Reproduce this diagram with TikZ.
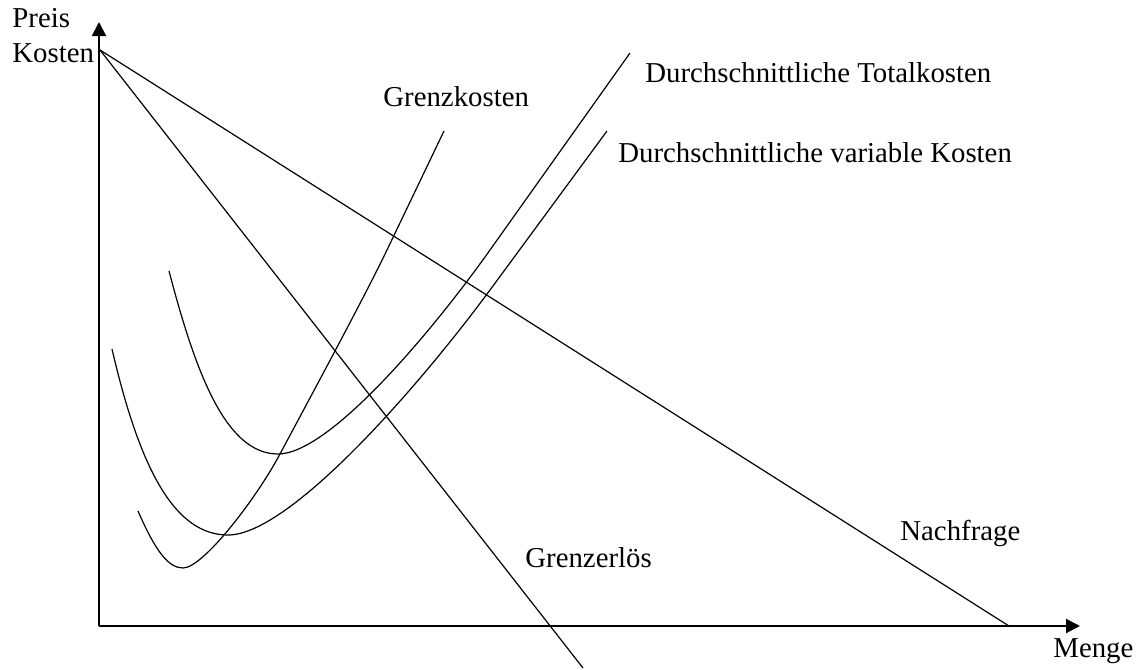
\documentclass[tikz,border=0pt]{standalone}
\usepackage{fontspec}
\setmainfont{Liberation Serif}
\usepackage{tikz}
\usetikzlibrary{positioning}
\usetikzlibrary{arrows.meta}

\begin{document}
\begin{tikzpicture}[x=0.5pt, y=-0.5pt]
	\tikzset{
		axis/.style={line width=1pt, -{Triangle[length=7pt, width=7pt]}},
		curve/.style={line width=0.6pt},
		lbl/.style={anchor=base west, inner sep=0pt, font=\fontsize{14.4}{17}\selectfont}
	}
	\useasboundingbox (0,0) rectangle (1137,670);

	% Axes
	\coordinate (origin) at (99,626);
	\coordinate (ytop) at (99,22);
	\coordinate (xend) at (1080,626);
	\draw[axis] (origin) -- (ytop);
	\draw[axis] (origin) -- (xend);
	\node[lbl] (preis) at (12,27) {Preis};
	\node[lbl] (kosten) at (12,62) {Kosten};
	\node[lbl] (menge) at (1053,657) {Menge};

	% Demand and marginal revenue
	\coordinate (apex) at (100,50);
	\coordinate (demandend) at (1009,626);
	\coordinate (revend) at (583,668);
	\draw[curve] (apex) -- (demandend);
	\draw[curve] (apex) -- (revend);
	\node[lbl] (nachfrage) at (900,540) {Nachfrage};
	\node[lbl] (grenzerloes) at (525,567) {Grenzerlös};

	% Marginal cost
	\draw[curve] (138,511) .. controls (155,550) and (168,568) .. (183,568)
		.. controls (203,568) and (256,499) .. (280,454)
		.. controls (304,409) and (364,298) .. (387,250) -- (444,131);
	\node[lbl] (grenzkosten) at (383,106) {Grenzkosten};

	% Average total cost
	\draw[curve] (169,271) .. controls (195,370) and (225,454) .. (278,454)
		.. controls (330,454) and (434,329) .. (490,250) -- (630,53);
	\node[lbl] (totalkosten) at (645,82) {Durchschnittliche Totalkosten};

	% Average variable cost
	\draw[curve] (112,349) .. controls (140,470) and (175,535) .. (228,535)
		.. controls (290,535) and (420,385) .. (490,290) -- (607,131);
	\node[lbl] (varkosten) at (618,162) {Durchschnittliche variable Kosten};
\end{tikzpicture}
\end{document}
